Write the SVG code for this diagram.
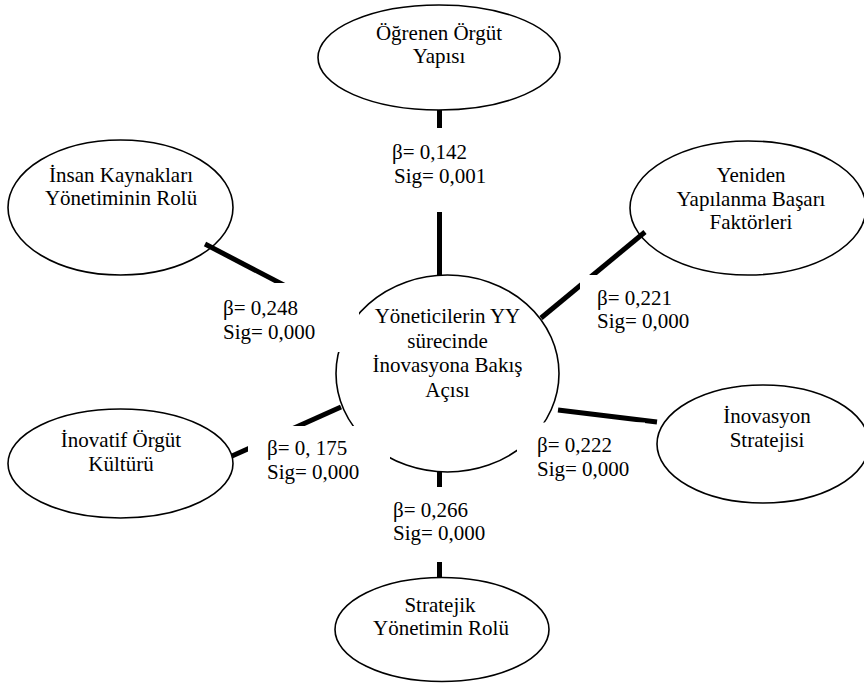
<svg xmlns="http://www.w3.org/2000/svg" width="864" height="684" viewBox="0 0 864 684">
<style>
.n{fill:#fff;stroke:#000;stroke-width:1.6}
text{font-family:'Liberation Serif','Times New Roman',serif;font-size:21px;fill:#000}
.c{text-anchor:middle}
.e{stroke:#000;stroke-width:5;fill:none}
.b{fill:#fff;stroke:none}
</style>
<rect width="864" height="684" fill="#fff"/>
<g id="node-ogrenen">
<ellipse class="n" cx="439" cy="57.5" rx="121" ry="52.5"/>
<text class="c" x="439" y="40">Öğrenen Örgüt</text>
<text class="c" x="439" y="63">Yapısı</text>
</g>
<g id="node-insan">
<ellipse class="n" cx="120.5" cy="207.5" rx="112.5" ry="67.5"/>
<text class="c" x="121" y="182">İnsan Kaynakları</text>
<text class="c" x="121" y="205">Yönetiminin Rolü</text>
</g>
<g id="node-yeniden">
<ellipse class="n" cx="748" cy="208" rx="118" ry="67"/>
<text class="c" x="751" y="182">Yeniden</text>
<text class="c" x="751" y="206">Yapılanma Başarı</text>
<text class="c" x="751" y="229">Faktörleri</text>
</g>
<g id="node-inovatif">
<ellipse class="n" cx="120.5" cy="463.5" rx="112.5" ry="54.5"/>
<text class="c" x="121" y="447">İnovatif Örgüt</text>
<text class="c" x="121" y="471">Kültürü</text>
</g>
<g id="node-inovasyon">
<ellipse class="n" cx="763" cy="444" rx="106" ry="59"/>
<text class="c" x="767" y="423">İnovasyon</text>
<text class="c" x="767" y="447">Stratejisi</text>
</g>
<g id="node-stratejik">
<ellipse class="n" cx="442" cy="629.5" rx="107" ry="52"/>
<text class="c" x="440" y="612">Stratejik</text>
<text class="c" x="441" y="635">Yönetimin Rolü</text>
</g>
<g id="node-center">
<ellipse class="n" cx="447.5" cy="373.5" rx="111.5" ry="98.5"/>
<text class="c" x="447.5" y="323">Yöneticilerin YY</text>
<text class="c" x="447.5" y="347.5">sürecinde</text>
<text class="c" x="447.5" y="372">İnovasyona Bakış</text>
<text class="c" x="447.5" y="396.5">Açısı</text>
</g>
<g id="connectors">
<line class="e" x1="439.5" y1="110" x2="439.5" y2="275"/>
<line class="e" x1="205" y1="244" x2="300" y2="293.5"/>
<line class="e" x1="645" y1="232" x2="541" y2="318"/>
<line class="e" x1="232" y1="456" x2="341" y2="407"/>
<line class="e" x1="558" y1="410" x2="657" y2="422"/>
<line class="e" x1="439.5" y1="472" x2="439.5" y2="577"/>
</g>
<g id="labels">
<g id="label-142">
<rect class="b" x="380" y="128" width="120" height="84"/>
<text x="392" y="159">β= 0,142</text>
<text x="394" y="183">Sig= 0,001</text>
</g>
<g id="label-248">
<rect class="b" x="215" y="283" width="144" height="69"/>
<text x="223" y="315">β= 0,248</text>
<text x="223" y="339">Sig= 0,000</text>
</g>
<g id="label-221">
<rect class="b" x="580" y="275" width="120" height="65"/>
<text x="597" y="305">β= 0,221</text>
<text x="597" y="328">Sig= 0,000</text>
</g>
<g id="label-175">
<rect class="b" x="248" y="426" width="142" height="66"/>
<text x="267" y="455">β= 0, 175</text>
<text x="267" y="479">Sig= 0,000</text>
</g>
<g id="label-222">
<rect class="b" x="517" y="422.5" width="128" height="66"/>
<text x="537" y="452">β= 0,222</text>
<text x="537" y="476">Sig= 0,000</text>
</g>
<g id="label-266">
<rect class="b" x="386" y="487" width="114" height="75"/>
<text x="393" y="517">β= 0,266</text>
<text x="393" y="540">Sig= 0,000</text>
</g>
</g>
</svg>
